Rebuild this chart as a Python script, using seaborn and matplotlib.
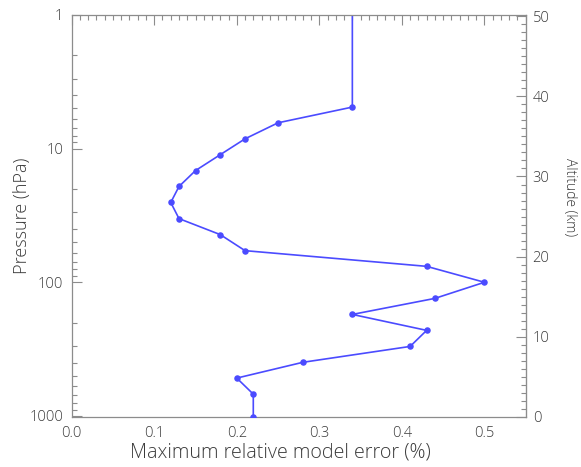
import numpy as np
import pandas as pd
import matplotlib
matplotlib.use("Agg")
import matplotlib.pyplot as plt
from matplotlib.ticker import FixedLocator, LogLocator, MultipleLocator, NullFormatter
import seaborn as sns

# pressure levels (hPa), bottom to top, and max relative model error (%)
pressure = [1013.25, 687, 521, 397, 302, 229, 174, 132, 100, 76, 58, 44,
            33.4, 25.3, 19.2, 14.6, 11.1, 8.45, 6.41, 4.89, 1.0]
error = [0.22, 0.22, 0.20, 0.28, 0.41, 0.43, 0.34, 0.44, 0.50, 0.43, 0.21,
         0.18, 0.13, 0.12, 0.13, 0.15, 0.18, 0.21, 0.25, 0.34, 0.34]
p_ticks = [1, 10, 100, 1000]
z_ticks = [0, 10, 20, 30, 40, 50]
x_ticks = [0.0, 0.1, 0.2, 0.3, 0.4, 0.5]

df = pd.DataFrame({"pressure": pressure, "error": error})

sns.set_style("white")
plt.rcParams["font.family"] = ["Open Sans", "DejaVu Sans"]
plt.rcParams["font.weight"] = "light"
plt.rcParams["axes.labelweight"] = "light"
grey = "#8c8c8c"
txt = "#3a3a3a"
col = "#4b4bff"

# scale height used for the altitude axis
P0 = 1013.25
H = 7.25


def p2z(p):
    return H * np.log(P0 / np.asarray(p, dtype=float))


def z2p(z):
    return P0 * np.exp(-np.asarray(z, dtype=float) / H)


fig = plt.figure(figsize=(5.81, 4.67), dpi=100)
ax = fig.add_axes([0.1234, 0.1077, 0.7814, 0.8603])

sns.lineplot(data=df, x="error", y="pressure", sort=False, estimator=None,
             color=col, linewidth=1.2, ax=ax)
sns.scatterplot(data=df.iloc[:-1], x="error", y="pressure", color=col,
                s=22, linewidth=0, ax=ax, zorder=3)

ax.set_yscale("log")
ax.set_ylim(P0, 1)
ax.set_xlim(0, 0.55)

ax.yaxis.set_major_locator(FixedLocator(p_ticks))
ax.set_yticklabels([str(t) for t in p_ticks])
ax.yaxis.set_minor_locator(LogLocator(base=10, subs=np.arange(2, 10)))
ax.yaxis.set_minor_formatter(NullFormatter())
ax.set_xticks(x_ticks)
ax.set_xticklabels([f"{v:.1f}" for v in x_ticks])
ax.xaxis.set_minor_locator(MultipleLocator(0.01))

ax.tick_params(axis="both", which="both", direction="in", color=grey)
ax.tick_params(axis="both", which="major", labelcolor=txt, labelsize=10.5)
ax.tick_params(axis="x", which="both", top=True)
ax.tick_params(axis="x", which="major", pad=7)
ax.tick_params(axis="y", which="both", right=False, left=True)
ax.tick_params(axis="y", which="major", pad=6)
ax.tick_params(which="major", length=7, width=0.8)
ax.tick_params(which="minor", length=3.5, width=0.8)

for s in ax.spines.values():
    s.set_color(grey)
    s.set_linewidth(0.9)

ax.set_xlabel("Maximum relative model error (%)", fontsize=14.2, color=txt)
ax.xaxis.set_label_coords(0.459, -0.064)
ax.set_ylabel("Pressure (hPa)", fontsize=13, color=txt)
ax.yaxis.set_label_coords(-0.09, 0.5)

sec = ax.secondary_yaxis("right", functions=(p2z, z2p))
sec.yaxis.set_major_locator(FixedLocator(z_ticks))
sec.yaxis.set_minor_locator(MultipleLocator(1))
sec.yaxis.set_minor_formatter(NullFormatter())
sec.set_yticklabels([str(t) for t in z_ticks])
sec.tick_params(axis="y", which="both", direction="in", color=grey)
sec.tick_params(axis="y", which="major", labelcolor=txt, labelsize=10.5,
                pad=5)
sec.tick_params(which="major", length=7, width=0.8)
sec.tick_params(which="minor", length=3.5, width=0.8)
sec.spines["right"].set_color(grey)
sec.set_ylabel("Altitude (km)", fontsize=10, color=txt, rotation=270,
               va="center", ha="center")
sec.yaxis.set_label_coords(570 / 581, 1 - 197 / 467, transform=fig.transFigure)

fig.savefig("out.png", dpi=100)
